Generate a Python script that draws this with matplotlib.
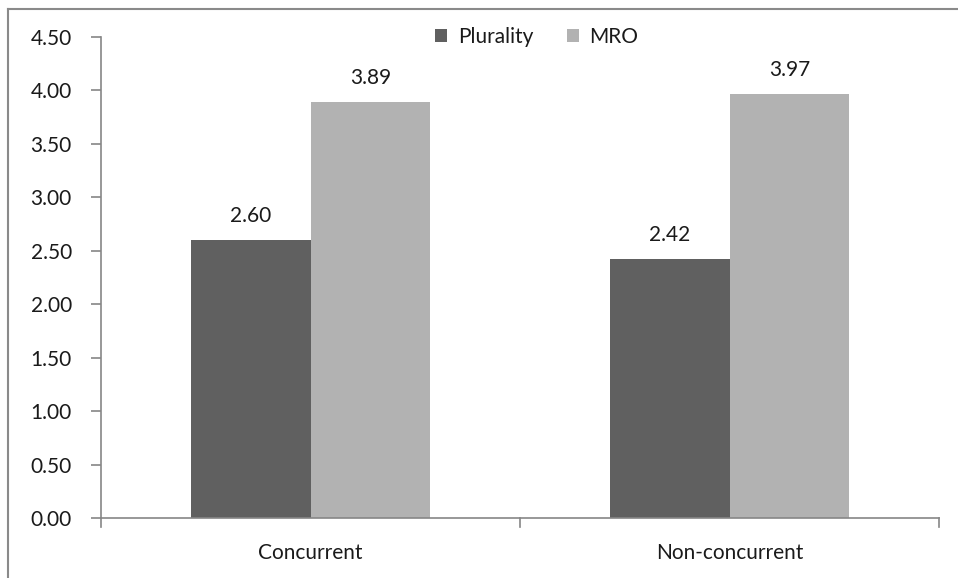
import matplotlib.pyplot as plt
import numpy as np
from matplotlib.lines import Line2D

categories = ["Concurrent", "Non-concurrent"]
plurality = [2.60, 2.42]
mro = [3.89, 3.97]
yticks = [0.0, 0.5, 1.0, 1.5, 2.0, 2.5, 3.0, 3.5, 4.0, 4.5]

plt.rcParams["font.family"] = ["Lato", "DejaVu Sans"]

W, H = 958, 578
fig = plt.figure(figsize=(W / 100, H / 100), dpi=100)
ax = fig.add_axes([101 / W, 1 - 518 / H, (939 - 101) / W, (518 - 37) / H])

axis_col = "#868686"
text_col = "#1a1a1a"
fs = 15
width = 120 / 420
x = np.arange(len(categories))

b1 = ax.bar(x - width / 2, plurality, width=width, color="#606060", label="Plurality")
b2 = ax.bar(x + width / 2, mro, width=width, color="#b2b2b2", label="MRO")

for bars, vals in [(b1, plurality), (b2, mro)]:
    for b, v in zip(bars, vals):
        ax.text(b.get_x() + b.get_width() / 2, v + 0.13, f"{v:.2f}",
                ha="center", va="bottom", fontsize=fs, color=text_col)

ax.set_xlim(-0.5, len(categories) - 0.5)
ax.set_ylim(0, 4.5)
ax.set_yticks(yticks)
ax.set_yticklabels([f"{t:.2f}" for t in yticks], fontsize=fs, color=text_col)
ax.set_xticks(x)
ax.set_xticklabels(categories, fontsize=fs, color=text_col)
ax.tick_params(axis="x", length=0, pad=18)
ax.tick_params(axis="y", length=7, width=1.2, color=axis_col, pad=14)

# category boundary ticks on x axis
for xb in [-0.5, 0.5, 1.5]:
    ax.plot([xb, xb], [0, -0.08], color=axis_col, lw=1.2, clip_on=False)

for s in ["top", "right"]:
    ax.spines[s].set_visible(False)
for s in ["left", "bottom"]:
    ax.spines[s].set_color(axis_col)
    ax.spines[s].set_linewidth(1.2)

ax.legend(loc="upper center", bbox_to_anchor=(0.52, 1.06), ncol=2, frameon=False,
          fontsize=fs, handlelength=0.6, handleheight=0.6, handletextpad=0.5,
          columnspacing=1.6, labelcolor=text_col)

# outer chart border (top and left edges visible)
fig.add_artist(Line2D([8 / W, 1], [1 - 9 / H, 1 - 9 / H], color="#8a8a8a", lw=1.5))
fig.add_artist(Line2D([8 / W, 8 / W], [0, 1 - 9 / H], color="#8a8a8a", lw=1.5))

fig.savefig("out.png", dpi=100)
